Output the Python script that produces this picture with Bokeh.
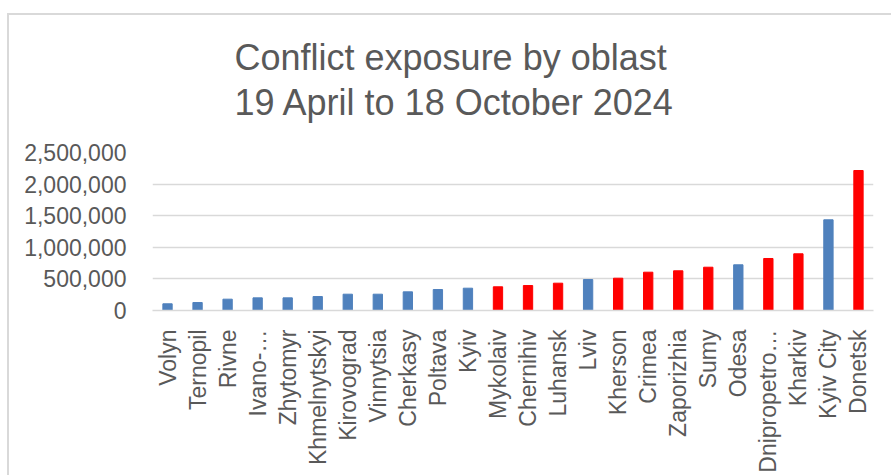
from bokeh.plotting import figure
from bokeh.models import ColumnDataSource, NumeralTickFormatter, FixedTicker, Range1d, InlineStyleSheet
from bokeh.embed import file_html
from bokeh.resources import INLINE

oblasts = ["Volyn", "Ternopil", "Rivne", "Ivano-\u2026", "Zhytomyr", "Khmelnytskyi", "Kirovograd",
           "Vinnytsia", "Cherkasy", "Poltava", "Kyiv", "Mykolaiv", "Chernihiv", "Luhansk", "Lviv",
           "Kherson", "Crimea", "Zaporizhia", "Sumy", "Odesa", "Dnipropetro\u2026", "Kharkiv",
           "Kyiv City", "Donetsk"]
exposure = [106000, 126000, 179000, 200000, 200000, 221000, 258000, 258000, 295000, 332000,
            353000, 375000, 395000, 432000, 490000, 511000, 606000, 628000, 685000, 723000,
            823000, 897000, 1435000, 2215000]
frontline = [False, False, False, False, False, False, False, False, False, False,
             False, True, True, True, False, True, True, True, True, False,
             True, True, False, True]
yticks = [0, 500000, 1000000, 1500000, 2000000, 2500000]
title_lines = ["Conflict exposure by oblast", "19 April to 18 October 2024"]

BLUE = "#4F81BD"
RED = "#FF0000"
GRAY = "#595959"
GRID = "#D9D9D9"
FONT = "Liberation Sans"

colors = [RED if f else BLUE for f in frontline]
src = ColumnDataSource(dict(oblast=oblasts, exposure=exposure, color=colors))

p = figure(x_range=oblasts, y_range=Range1d(0, 2500000), width=891, height=475,
           output_backend="svg", toolbar_location=None,
           min_border_left=152, min_border_right=18, min_border_top=152, min_border_bottom=165)

p.vbar(x="oblast", top="exposure", width=0.31, color="color", source=src)

p.outline_line_color = None
p.background_fill_color = "white"
p.border_fill_color = "white"

p.title.text = "\n".join(title_lines)
p.title.align = "left"
p.title.offset = 82
p.title.standoff = 59
p.title.text_font = FONT
p.title.text_font_size = "36px"
p.title.text_font_style = "normal"
p.title.text_color = GRAY
p.title.text_line_height = 1.1

p.xgrid.grid_line_color = None
p.ygrid.grid_line_color = GRID
p.ygrid.grid_line_width = 1.5

p.yaxis.ticker = FixedTicker(ticks=yticks)
p.yaxis.formatter = NumeralTickFormatter(format="0,0")
p.yaxis.axis_line_color = None
p.yaxis.major_tick_line_color = None
p.yaxis.minor_tick_line_color = None
p.yaxis.major_label_text_font = FONT
p.yaxis.major_label_text_font_size = "23px"
p.yaxis.major_label_text_color = GRAY
p.yaxis.major_label_standoff = 20

p.xaxis.axis_line_color = GRID
p.xaxis.axis_line_width = 1.5
p.xaxis.major_tick_line_color = None
p.xaxis.minor_tick_line_color = None
p.xaxis.major_label_orientation = 1.5707963
p.xaxis.major_label_text_font = FONT
p.xaxis.major_label_text_font_size = "23px"
p.xaxis.major_label_text_color = GRAY
p.xaxis.major_label_standoff = 13

p.stylesheets = [InlineStyleSheet(css=(
    ":host::after { content: ''; position: absolute; left: 7px; top: 13px; right: 0px; bottom: 0px;"
    " border-top: 2px solid #D9D9D9; border-left: 2px solid #D9D9D9; pointer-events: none; }"))]

open("out.html", "w").write(file_html(p, INLINE))
